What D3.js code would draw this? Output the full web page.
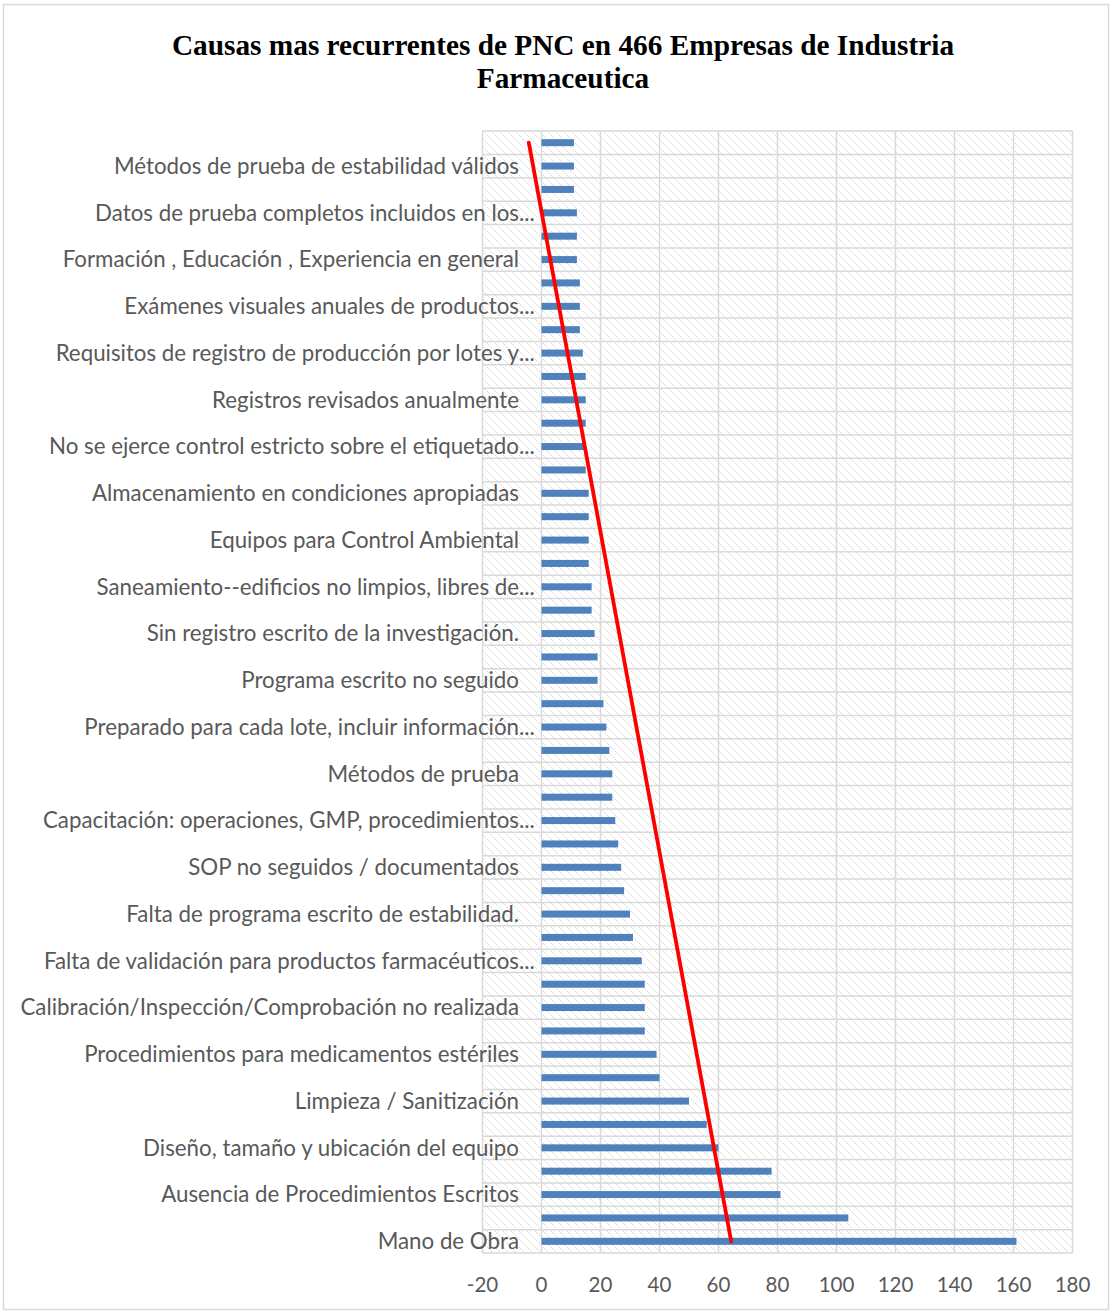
<!DOCTYPE html>
<html>
<head>
<meta charset="utf-8">
<script src="https://cdn.jsdelivr.net/npm/d3@7"></script>
<style>
  body { margin: 0; background: #fff; }
  svg { display: block; }
</style>
</head>
<body>
<div id="chart"></div>
<script>
// categories from the bottom of the chart upwards (hidden labels left blank)
var categories = [
  "Mano de Obra", "",
  "Ausencia de Procedimientos Escritos", "",
  "Diseño, tamaño y ubicación del equipo", "",
  "Limpieza / Sanitización", "",
  "Procedimientos para medicamentos estériles", "",
  "Calibración/Inspección/Comprobación no realizada", "",
  "Falta de validación para productos farmacéuticos...", "",
  "Falta de programa escrito de estabilidad.", "",
  "SOP no seguidos / documentados", "",
  "Capacitación: operaciones, GMP, procedimientos...", "",
  "Métodos de prueba", "",
  "Preparado para cada lote, incluir información...", "",
  "Programa escrito no seguido", "",
  "Sin registro escrito de la investigación.", "",
  "Saneamiento--edificios no limpios, libres de...", "",
  "Equipos para Control Ambiental", "",
  "Almacenamiento en condiciones apropiadas", "",
  "No se ejerce control estricto sobre el etiquetado...", "",
  "Registros revisados anualmente", "",
  "Requisitos de registro de producción por lotes y...", "",
  "Exámenes visuales anuales de productos...", "",
  "Formación , Educación , Experiencia en general", "",
  "Datos de prueba completos incluidos en los...", "",
  "Métodos de prueba de estabilidad válidos", ""
];

var values = [
  161, 104, 81, 78, 60, 56, 50, 40, 39, 35,
  35, 35, 34, 31, 30, 28, 27, 26, 25, 24,
  24, 23, 22, 21, 19, 19, 18, 17, 17, 16,
  16, 16, 16, 15, 15, 15, 15, 15, 14, 13,
  13, 13, 12, 12, 12, 11, 11, 11
];

var xTicks = [-20, 0, 20, 40, 60, 80, 100, 120, 140, 160, 180];

var titleLines = [
  "Causas mas recurrentes de PNC en 466 Empresas de Industria",
  "Farmaceutica"
];

var W = 1112, H = 1313;
var plot = {left: 482.5, right: 1072.5, top: 131, bottom: 1253};

var svg = d3.select("#chart").append("svg")
  .attr("width", W)
  .attr("height", H);

// hatch pattern for the plot area
var defs = svg.append("defs");
var pat = defs.append("pattern")
  .attr("id", "hatch")
  .attr("patternUnits", "userSpaceOnUse")
  .attr("width", 8)
  .attr("height", 8);
pat.append("path")
  .attr("d", "M-2,-2 L10,10 M-2,6 L2,10 M6,-2 L10,2")
  .attr("stroke", "#d3d3d3")
  .attr("stroke-width", 1)
  .attr("stroke-dasharray", "2,1.2");

// chart border
svg.append("rect")
  .attr("x", 3.5).attr("y", 4.5)
  .attr("width", W - 7).attr("height", H - 8)
  .attr("fill", "#fff")
  .attr("stroke", "#d9d9d9")
  .attr("stroke-width", 1.5);

// title
svg.append("g").selectAll("text")
  .data(titleLines)
  .enter().append("text")
  .attr("x", 563)
  .attr("y", (d, i) => 55 + i * 33)
  .attr("text-anchor", "middle")
  .style("font-family", "'Liberation Serif', 'Times New Roman', serif")
  .style("font-weight", "bold")
  .style("font-size", "29.3px")
  .style("fill", "#000")
  .text(d => d);

var x = d3.scaleLinear()
  .domain([-20, 180])
  .range([plot.left, plot.right]);

var idx = d3.range(categories.length);
var y = d3.scaleBand()
  .domain(idx.slice().reverse())
  .range([plot.top, plot.bottom])
  .paddingInner(0)
  .paddingOuter(0);

// plot background
svg.append("rect")
  .attr("x", plot.left).attr("y", plot.top)
  .attr("width", plot.right - plot.left)
  .attr("height", plot.bottom - plot.top)
  .attr("fill", "url(#hatch)");

// gridlines
var grid = svg.append("g")
  .attr("stroke", "#d9d9d9")
  .attr("stroke-width", 1.5);
grid.selectAll("line.v")
  .data(xTicks)
  .enter().append("line")
  .attr("class", "v")
  .attr("x1", d => x(d)).attr("x2", d => x(d))
  .attr("y1", plot.top).attr("y2", plot.bottom);
grid.selectAll("line.h")
  .data(idx.concat([-1]))
  .enter().append("line")
  .attr("class", "h")
  .attr("x1", plot.left).attr("x2", plot.right)
  .attr("y1", d => d < 0 ? plot.bottom : y(d))
  .attr("y2", d => d < 0 ? plot.bottom : y(d));

// bars
var barH = 7;
svg.append("g").selectAll("rect")
  .data(idx)
  .enter().append("rect")
  .attr("x", x(0))
  .attr("y", d => y(d) + y.bandwidth() / 2 - barH / 2)
  .attr("width", d => x(values[d]) - x(0))
  .attr("height", barH)
  .attr("fill", "#4f81bd");

// category labels
var labelFont = "Lato, 'Open Sans', sans-serif";
var labels = svg.append("g")
  .style("font-family", labelFont)
  .style("font-size", "22.3px")
  .style("fill", "#595959");
idx.filter(i => categories[i] !== "").forEach(function(i) {
  var name = categories[i];
  var cy = y(i) + y.bandwidth() / 2;
  var trunc = name.endsWith("...");
  labels.append("text")
    .attr("x", 519)
    .attr("y", cy)
    .attr("dy", "0.35em")
    .attr("text-anchor", "end")
    .text(trunc ? name.slice(0, -3) : name);
  if (trunc) {
    labels.append("text")
      .attr("x", 519)
      .attr("y", cy)
      .attr("dy", "0.35em")
      .text("...");
  }
});

// x tick labels
svg.append("g").selectAll("text")
  .data(xTicks)
  .enter().append("text")
  .attr("x", d => x(d))
  .attr("y", 1285)
  .attr("dy", "0.35em")
  .attr("text-anchor", "middle")
  .style("font-family", labelFont)
  .style("font-size", "20.5px")
  .style("fill", "#595959")
  .text(d => d);

// linear trendline (least squares over category positions 1..n)
var n = values.length;
var xs = idx.map(i => i + 1);
var mx = d3.mean(xs), my = d3.mean(values);
var slope = d3.sum(idx, i => (xs[i] - mx) * (values[i] - my)) / d3.sum(xs, v => (v - mx) * (v - mx));
var icpt = my - slope * mx;
var trend = [0, n - 1].map(i => ({i: i, v: icpt + slope * (i + 1)}));
svg.append("path")
  .datum(trend)
  .attr("d", d3.line()
    .x(d => x(d.v))
    .y(d => y(d.i) + y.bandwidth() / 2))
  .attr("fill", "none")
  .attr("stroke", "#ff0000")
  .attr("stroke-width", 3.8)
  .attr("stroke-linecap", "round");
</script>
</body>
</html>
